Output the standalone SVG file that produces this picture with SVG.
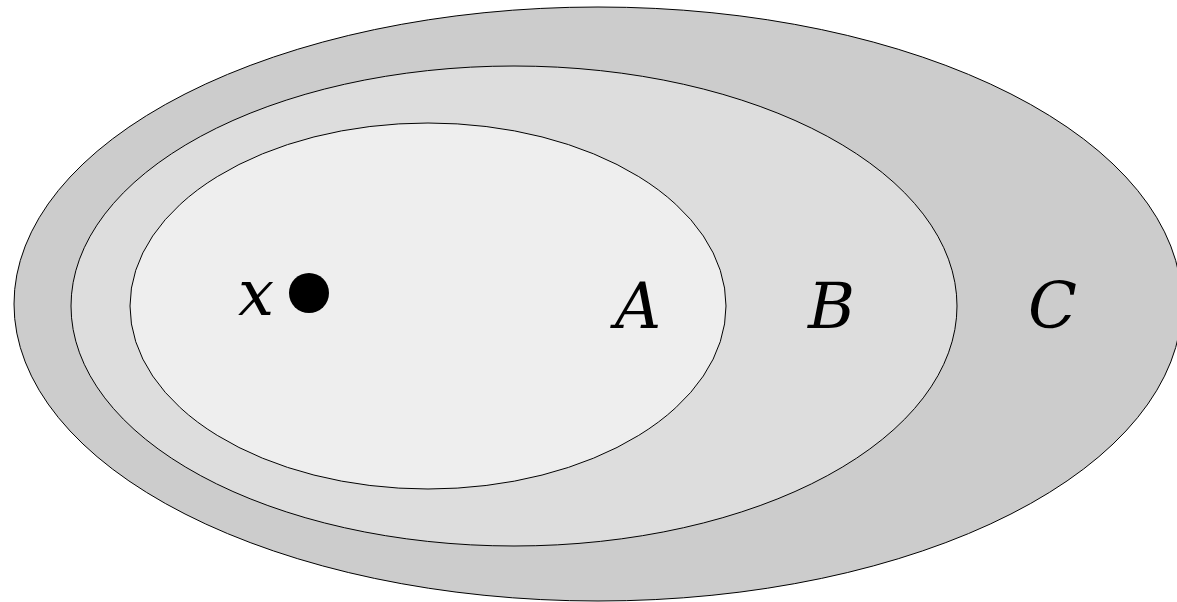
<svg xmlns="http://www.w3.org/2000/svg" width="1177" height="602" viewBox="0 0 1177 602">
<style>
.set{stroke:#000;stroke-width:1}
.lbl{font-family:"DejaVu Serif",serif;font-style:italic;font-size:64px;fill:#000}
</style>
<rect width="1177" height="602" fill="#fff"/>
<g id="C"><ellipse class="set" cx="598" cy="304" rx="584" ry="297" fill="#cccccc"/><text class="lbl" x="1028" y="328">C</text></g>
<g id="B"><ellipse class="set" cx="514" cy="306" rx="443" ry="240" fill="#dddddd"/><text class="lbl" x="808" y="328">B</text></g>
<g id="A"><ellipse class="set" cx="428" cy="306" rx="298" ry="183" fill="#eeeeee"/><text class="lbl" x="615" y="328">A</text></g>
<g id="x"><circle cx="309" cy="293" r="20" fill="#000"/><text class="lbl" x="238" y="315">x</text></g>
</svg>
